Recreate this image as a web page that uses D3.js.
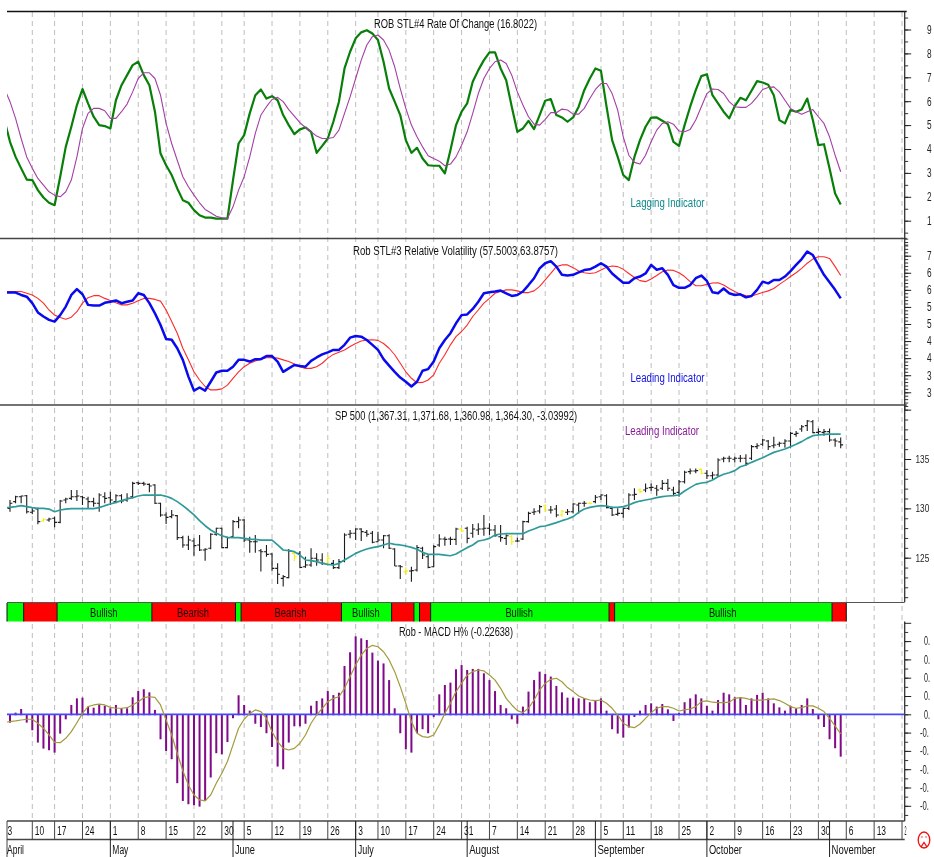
<!DOCTYPE html>
<html><head><meta charset="utf-8">
<script src="https://cdn.jsdelivr.net/npm/d3@7"></script>
<style>
html,body{margin:0;padding:0;background:#fff;overflow:hidden}
svg{display:block;filter:blur(0.35px)}
text{font-family:"Liberation Sans",Arial,sans-serif;fill:#111}
</style></head><body>
<svg id="c" width="934" height="857"></svg>
<script>
// Trading-day index k: 0 = 4 Apr 2006, 149 = 3 Nov 2006. Line series start at k = -1.
const rocFast=[52.1,43.0,36.7,31.9,27.2,27.0,22.8,19.7,17.5,16.5,28.4,40.9,49.3,58.4,65.1,59.1,53.5,50.0,49.6,48.6,60.4,66.7,70.9,75.1,76.5,70.9,66.7,55.6,38.1,33.2,29.1,23.5,18.6,17.5,14.4,12.3,11.3,11.3,10.9,10.9,10.9,27.0,42.3,45.8,54.9,62.5,64.9,61.1,62.1,60.4,54.2,50.0,46.2,48.2,49.0,47.2,38.4,41.3,44.4,51.4,59.8,73.7,80.7,86.3,88.8,89.7,88.3,85.6,76.5,65.3,59.8,54.2,43.7,38.4,40.5,36.0,33.2,33.0,33.0,29.8,39.5,50.0,55.6,59.1,68.1,73.0,77.2,80.4,80.4,73.7,68.8,57.7,47.2,48.6,51.8,48.3,54.2,60.2,60.9,54.2,53.2,51.4,53.2,57.7,64.6,69.5,73.7,72.7,57.7,43.7,36.7,29.1,27.0,36.7,43.7,49.3,53.1,53.2,51.8,50.4,43.0,41.3,50.0,57.7,64.6,70.5,71.3,62.5,59.1,55.6,52.8,57.9,61.4,60.4,64.4,68.4,67.8,66.9,62.5,52.1,50.7,56.3,55.6,56.5,61.1,52.1,41.6,42.0,31.8,21.4,16.8];
const rocSlow=[65.3,59.8,52.8,44.4,36.7,31.9,27.7,24.9,22.1,20.7,20.0,22.1,27.0,36.7,48.6,54.9,57.0,57.0,56.0,52.8,52.8,55.6,58.8,63.9,69.5,71.9,71.9,69.5,62.5,50.7,42.3,35.3,28.4,24.2,20.7,17.5,14.7,13.3,11.9,11.2,10.9,15.8,22.8,28.4,36.7,46.5,54.2,57.7,60.7,61.6,59.8,56.5,53.8,51.0,49.0,47.2,45.4,44.4,44.4,44.8,47.9,54.9,61.8,69.5,77.2,83.5,87.0,87.7,85.6,81.4,74.4,65.3,57.0,50.0,45.1,40.9,37.2,36.0,34.9,33.0,33.7,36.7,41.6,47.2,54.9,63.2,69.5,73.7,76.5,77.2,75.8,70.9,63.9,58.4,53.5,50.4,50.0,52.4,55.2,55.2,56.7,56.3,54.6,54.6,57.0,61.1,64.9,67.4,67.4,63.2,56.3,45.1,37.4,34.4,33.7,37.4,43.0,47.9,50.7,51.4,50.4,47.5,47.2,48.2,52.1,57.7,63.2,65.1,64.9,63.2,59.8,57.7,57.4,57.4,59.1,61.8,64.9,65.7,66.0,63.9,60.4,57.0,55.6,54.5,55.6,56.5,53.5,50.7,45.1,37.4,30.5];
const volFast=[59.3,59.2,59.2,58.5,58.0,56.1,53.4,52.2,51.2,50.7,52.6,55.1,58.5,60.2,58.7,55.6,55.4,55.4,56.2,56.5,56.9,56.1,56.5,56.9,59.0,58.5,56.1,53.1,49.7,45.6,45.4,42.9,39.5,34.6,30.5,31.4,30.5,33.1,35.8,36.3,36.3,37.5,39.5,39.5,39.0,39.7,39.7,40.6,40.6,39.0,36.0,37.0,38.0,37.7,37.5,39.2,40.2,41.1,41.7,42.4,42.4,43.9,46.0,46.5,46.3,45.3,43.9,42.4,39.7,37.8,36.0,34.3,33.1,31.7,33.1,36.3,36.8,39.0,42.9,45.3,47.3,50.2,52.6,52.8,54.4,56.5,59.0,59.3,59.5,59.8,59.0,58.2,58.5,59.5,61.4,63.4,66.3,67.8,68.4,66.8,64.4,64.2,64.4,65.1,65.8,66.0,66.8,67.8,66.8,64.8,63.4,62.1,62.1,63.4,63.9,64.8,67.3,65.9,66.3,64.4,61.4,60.6,60.6,61.4,63.4,64.2,62.6,59.3,59.0,60.4,59.0,58.5,58.7,57.8,58.2,60.0,62.4,61.9,62.9,62.9,63.9,65.5,67.3,69.0,71.2,70.2,67.3,64.4,62.2,60.0,57.5];
const volSlow=[59.5,59.5,59.5,59.5,59.0,58.5,57.5,56.1,54.1,52.6,51.9,51.4,52.0,53.6,56.1,57.7,58.3,58.3,57.5,56.9,56.2,55.6,55.6,56.1,56.8,57.5,57.5,57.2,56.7,54.1,50.7,47.3,42.9,39.5,36.0,33.6,31.7,30.7,30.7,31.0,32.1,34.1,36.0,37.5,38.5,39.2,39.7,40.1,40.2,40.0,39.5,39.0,38.3,37.5,37.0,37.0,37.5,38.5,40.0,41.1,41.7,42.4,43.4,44.3,45.0,45.3,45.4,45.2,44.3,42.9,41.0,38.5,36.0,34.1,32.8,32.9,33.6,35.1,38.5,41.0,43.9,46.3,47.8,49.7,52.2,54.1,56.1,57.5,59.0,59.5,60.0,60.0,59.7,59.2,59.2,59.7,61.0,62.9,64.8,66.8,67.3,67.3,66.5,65.5,65.0,64.8,65.0,65.8,66.6,67.0,66.8,66.0,64.8,63.6,62.7,62.4,63.2,64.2,65.3,65.8,65.7,65.0,63.9,62.4,61.2,61.2,61.6,62.0,62.1,61.4,60.4,59.5,58.7,58.3,58.2,58.7,59.2,59.7,60.4,61.6,62.7,63.9,65.0,66.3,67.8,69.0,69.7,69.7,69.2,66.8,64.2];
const spHigh=[1308.5,1312.8,1312.8,1313.5,1300,1300.7,1289.9,1290.6,1291.6,1308.5,1310.8,1318.6,1318.6,1312.8,1311.8,1310.8,1315.2,1316.2,1316.9,1314.2,1314.2,1315.2,1327,1327,1327,1325.3,1324.3,1305.8,1296,1298.3,1293.3,1272.3,1272.3,1269.6,1273,1259.5,1274.7,1280.4,1280.4,1271.3,1288.2,1291.6,1288.9,1271.3,1273,1258.8,1262.9,1254.4,1244.3,1232.5,1258.8,1256.1,1256.8,1251,1259.5,1254.4,1254.4,1252.7,1247.7,1248.7,1274.7,1278.1,1279.8,1279.8,1278.1,1277,1276.4,1273,1273.7,1259.5,1242.6,1240.2,1240.9,1262.9,1261.2,1252.7,1262.9,1273.7,1271.3,1271.3,1280.4,1280.4,1281.4,1284.2,1284.8,1293.3,1284.8,1283.1,1283.1,1273.7,1273,1270.3,1287.5,1296.6,1300,1303.4,1304.1,1302.4,1303.4,1298.3,1299.3,1305.1,1305.8,1307.4,1306.1,1313.5,1314.2,1314.2,1301.7,1300,1300.7,1315.2,1320.3,1320.3,1325.3,1325.3,1323.7,1328.7,1329.7,1322,1328.7,1338.2,1340.5,1340.5,1340.5,1338.9,1337.2,1350.7,1352.4,1353.4,1352.4,1354,1354.7,1364.2,1365.9,1370.3,1369.2,1372.6,1367.6,1369.9,1377.7,1378.4,1384.4,1389.5,1389.5,1381,1380.4,1381,1370.9,1371.7];
const spLow=[1296.6,1305.1,1305.1,1294.9,1293.9,1283.8,1286.5,1286.5,1280.8,1284.8,1305.1,1308.5,1307.4,1303.4,1300,1301.7,1296.6,1305.1,1303.4,1305.1,1305.1,1306.8,1310.1,1323.7,1323,1316.2,1304.4,1291.6,1284.2,1289.9,1267.9,1260.2,1257.8,1252,1256.8,1247,1258.5,1272.3,1259.5,1259.5,1270.3,1279.8,1265.6,1255.1,1255.1,1235.9,1251,1236.9,1223.4,1220.7,1229.1,1246.7,1239.2,1239.9,1240.9,1241.9,1242.6,1242.6,1238.6,1238.6,1245.3,1269.6,1267.9,1266.9,1271.3,1264.6,1265.6,1259.5,1258.8,1241.6,1228.4,1233.2,1225.7,1235.9,1248.7,1239.2,1240.2,1261.2,1262.2,1262.9,1262.9,1275.7,1264.6,1270.3,1273,1272.3,1273,1271.3,1266.2,1262.9,1262.9,1265.6,1267.9,1285.5,1293.3,1294.9,1296.6,1294.9,1290.9,1291.6,1293.3,1294.9,1294.9,1301.7,1304.1,1305.1,1308.5,1300,1292.2,1292.6,1290.6,1298.3,1308.5,1315.2,1316.2,1317.6,1312.8,1318.6,1317.6,1313.5,1311.8,1325.3,1334.5,1335.5,1334.5,1329.7,1329.7,1332.1,1346.6,1346.6,1346.6,1346.6,1342.9,1349,1360.1,1363.5,1359.1,1360.8,1362.5,1361.5,1361.5,1372.6,1377.7,1378.4,1376,1374.3,1373.6,1367.6,1362.5,1361];
const spOpen=[1300,1306.8,1311.8,1312.8,1296,1299.3,1287.2,1288.2,1289.9,1285.8,1308.5,1310.1,1311.8,1311.8,1309.5,1306.8,1305.1,1311.8,1310.8,1306.8,1312.8,1308.5,1311.8,1326,1325.3,1324.3,1323.7,1305.1,1293.3,1291.6,1292.6,1270.3,1262.9,1266.9,1262.9,1257.8,1259.5,1273.7,1279.8,1260.2,1271.3,1286.5,1288.2,1267.9,1266.2,1257.1,1256.1,1253.7,1239.2,1229.1,1229.8,1254.4,1254.4,1240.9,1242.6,1249.4,1247.7,1244.3,1244.3,1239.9,1246.7,1273.7,1274.7,1279.1,1275.7,1274.7,1266.2,1267.9,1272.3,1258.8,1241.6,1235.9,1236.5,1237.5,1259.5,1251,1240.9,1262.9,1268.9,1268.9,1268.6,1279.1,1279.8,1274.7,1278.1,1279.1,1279.8,1278.1,1271.3,1269.6,1271.3,1266.9,1268.9,1286.5,1296,1297.3,1302.7,1298.3,1299.3,1293.3,1296,1296.6,1303.4,1305.1,1305.1,1306.8,1311.8,1312.8,1300,1293.9,1294.9,1300,1313.5,1318.6,1318.6,1321,1320.3,1320.3,1325.3,1318.6,1316.2,1327,1337.2,1337.8,1339.5,1335.5,1333.1,1333.8,1350,1350.7,1349.7,1350.7,1350.7,1350.7,1362.5,1364.9,1368.2,1363.5,1364.9,1365.9,1368.2,1375,1380.4,1383.8,1387.8,1377,1377,1377.7,1369.2,1367.3];
const spClose=[1305.1,1311.8,1312.5,1296.6,1297.3,1286.5,1288.9,1289.2,1285.8,1307.4,1309.5,1311.8,1312.5,1310.8,1306.8,1305.1,1313.5,1310.1,1308.5,1312.8,1307.4,1310.1,1325.3,1325.3,1324.7,1322.6,1305.1,1293.3,1290.9,1293.3,1270.3,1262.9,1267.9,1262.2,1257.8,1258.5,1273.7,1279.8,1260.2,1270.3,1286.5,1288.2,1267.9,1266.2,1266.2,1256.1,1253.4,1239.2,1233.2,1230.8,1256.8,1251,1240.2,1242.6,1249.4,1247.7,1244.3,1249.4,1239.9,1246,1273,1274.7,1279.1,1276.4,1273.7,1265.6,1267.9,1272.3,1259.5,1241.6,1240.9,1236.5,1236.9,1260.2,1252.7,1240.2,1261.2,1268.9,1268.6,1268.6,1279.1,1277,1269.6,1279.1,1279.1,1279.8,1278.1,1272.3,1270.3,1272.3,1266.2,1266.9,1286.5,1294.9,1296.6,1301.7,1298.3,1298.3,1293.3,1297.3,1296.6,1304.4,1305.1,1305.1,1305.1,1311.2,1313.5,1300.7,1293.3,1294.9,1300,1313.5,1314.2,1316.9,1320.3,1321.3,1318.6,1325.3,1320.3,1315.2,1327,1336.5,1337.8,1338.2,1335.5,1333.1,1333.8,1349,1350.7,1350.7,1350.7,1350.7,1345.6,1362.5,1363.5,1369.2,1362.5,1364.2,1365.9,1368.2,1376,1376,1382.7,1388.5,1376.7,1377.7,1377.7,1369.2,1368.2,1364.3];
const spAvg=[1300.7,1301,1301.7,1302.7,1301.7,1300.7,1300,1300,1299.3,1296.6,1298.3,1299.3,1299.7,1299.7,1299.7,1299.7,1299.7,1300.7,1302.7,1304.4,1306.1,1307.8,1309.5,1310.8,1312.5,1313.5,1313.5,1313.5,1313.5,1312.2,1310.1,1306.8,1302.7,1298.3,1293.3,1287.5,1282.4,1278.1,1274.7,1272.3,1270.6,1270.3,1270.3,1269.6,1268.9,1268.6,1267.9,1267.9,1267.9,1262.9,1257.8,1257.1,1256.1,1252.7,1247.7,1247,1246,1244.3,1243.3,1242.6,1244.3,1247.7,1251,1254.4,1256.8,1258.8,1260.2,1261.2,1262.9,1264.6,1263.5,1262.9,1261.9,1260.5,1258.5,1255.4,1253.4,1253.4,1253.4,1252.7,1252,1253.7,1257.1,1260.2,1262.9,1266.9,1267.9,1269.6,1273,1274,1274.3,1274.3,1274.3,1274.3,1277,1279.1,1281.4,1282.1,1283.8,1285.5,1287.5,1289.2,1291.6,1296,1299.3,1301,1302,1302.7,1302.4,1301,1301,1301.7,1303.4,1305.8,1307.4,1308.5,1309.5,1310.8,1311.8,1312.5,1312.8,1313.5,1317.6,1321,1324.3,1325.7,1326.4,1328.7,1332.1,1334.5,1336.1,1338.2,1342.2,1343.9,1346.6,1349,1351.3,1354,1356.7,1358.4,1360.1,1362.5,1364.9,1367.6,1370.9,1373.6,1374.3,1375,1375.3,1375.3,1375.3];
const yellowBars=[6,51,57,71,81,90,96,99,104,113,124];
const macdHist=[-0.040,0.009,0.029,-0.040,-0.082,-0.149,-0.182,-0.191,-0.204,-0.100,-0.022,0.051,0.087,0.091,0.042,0.036,0.051,0.047,0.033,0.051,0.033,0.033,0.093,0.127,0.137,0.120,0.024,-0.131,-0.195,-0.240,-0.371,-0.468,-0.486,-0.491,-0.499,-0.468,-0.340,-0.207,-0.213,-0.146,-0.016,0.104,0.051,0.020,-0.046,-0.064,-0.098,-0.173,-0.280,-0.295,-0.149,-0.060,-0.060,-0.046,0.047,0.073,0.087,0.127,0.105,0.118,0.264,0.339,0.426,0.415,0.406,0.337,0.293,0.278,0.187,0.033,-0.098,-0.186,-0.204,-0.098,-0.076,-0.098,-0.009,0.109,0.160,0.173,0.246,0.269,0.242,0.248,0.248,0.224,0.187,0.127,0.051,0.033,-0.022,-0.046,0.042,0.124,0.187,0.233,0.220,0.206,0.155,0.120,0.091,0.091,0.087,0.087,0.066,0.078,0.087,0.020,-0.076,-0.100,-0.122,-0.067,-0.009,0.020,0.051,0.060,0.042,0.056,0.027,-0.031,0.009,0.066,0.087,0.109,0.087,0.046,0.020,0.078,0.118,0.109,0.093,0.093,0.051,0.087,0.106,0.118,0.087,0.060,0.038,0.020,0.046,0.033,0.051,0.087,0.029,-0.022,-0.064,-0.131,-0.180,-0.226];
const macdSignal=[-0.044,-0.040,-0.036,-0.031,-0.027,-0.027,-0.049,-0.076,-0.113,-0.153,-0.155,-0.131,-0.095,-0.046,0.005,0.042,0.051,0.056,0.051,0.038,0.033,0.033,0.036,0.051,0.069,0.091,0.096,0.093,0.051,-0.031,-0.113,-0.213,-0.308,-0.386,-0.441,-0.468,-0.473,-0.441,-0.377,-0.322,-0.258,-0.167,-0.076,-0.027,0.005,0.024,0.015,-0.022,-0.095,-0.149,-0.186,-0.195,-0.186,-0.158,-0.113,-0.049,-0.004,0.033,0.069,0.087,0.096,0.142,0.206,0.269,0.324,0.360,0.377,0.369,0.342,0.297,0.233,0.151,0.060,-0.040,-0.104,-0.122,-0.126,-0.113,-0.058,0.005,0.060,0.124,0.169,0.215,0.233,0.242,0.237,0.215,0.187,0.142,0.087,0.051,0.020,0.009,0.033,0.078,0.133,0.169,0.191,0.197,0.178,0.146,0.124,0.100,0.087,0.078,0.075,0.078,0.060,0.033,-0.004,-0.049,-0.067,-0.073,-0.053,-0.022,0.009,0.033,0.042,0.042,0.033,0.018,0.024,0.029,0.042,0.069,0.073,0.066,0.064,0.064,0.066,0.087,0.091,0.087,0.078,0.078,0.078,0.082,0.084,0.075,0.060,0.042,0.033,0.036,0.046,0.046,0.033,0.015,-0.022,-0.064,-0.107];
const bandStarts=[-1,3,9,26,41,42,60,69,73,74,76,108,109,148,150.55];
const bandBullish=[1,0,1,0,1,0,1,0,1,0,1,0,1,0];
const bandLabels=["","","Bullish","Bearish","","Bearish","Bullish","","","","Bullish","","Bullish",""];
const weekTicks=[-1,4,8,13,18,23,28,33,38,42,47,52,57,62,66,71,76,81,86,91,96,101,106,110,115,120,125,130,135,140,145,150,155,160];
const weekLabels=["3","10","17","24","1","8","15","22","30","5","12","19","26","3","10","17","24","31","7","14","21","28","5","11","18","25","2","9","16","23","30","6","13","2"];
const monthTicks=[-1,18,40,62,82,105,125,147];
const monthLabels=["April","May","June","July","August","September","October","November"];
const monthWidths=[17,16,20,16,30,47,33,44];
const panelTitles=["ROB STL#4 Rate Of Change (16.8022)","Rob STL#3 Relative Volatility (57.5003,63.8757)","SP 500 (1,367.31, 1,371.68, 1,360.98, 1,364.30, -3.03992)","Rob - MACD H% (-0.22638)"];
// tick values and the part of each tick label the reference shows at the window edge
const rocTicks=[10,20,30,40,50,60,70,80,90];
const rocTickText=["1","2","3","4","5","6","7","8","9"];
const volTicks=[30,35,40,45,50,55,60,65,70];
const volTickText=["3","3","4","4","5","5","6","6","7"];
const spTicks=[1250,1300,1350,1400];
const spTickText=["125","130","135",""];
const macdTicks=[-0.5,-0.4,-0.3,-0.2,-0.1,0,0.1,0.2,0.3,0.4,0.5];
const macdTickText=["-0.","-0.","-0.","-0.","-0.","0.","0.","0.","0.","0.",""];

const svg=d3.select("#c");
const L=7,R=904.7;
const x=d3.scaleLinear().domain([0,149]).range([10,840.7]);
const y1=d3.scaleLinear().domain([10,90]).range([220.7,29.5]);
const y2=d3.scaleLinear().domain([30,70]).range([392.3,255.7]);
const y3=d3.scaleLinear().domain([1250,1350]).range([557.7,459]);
const y4=d3.scaleLinear().domain([-0.1,0.1]).range([732.6,696]);

const defs=svg.append("defs");
defs.append("clipPath").attr("id","plot").append("rect").attr("x",L).attr("y",0).attr("width",R-L).attr("height",857);

function label(g,str,px,py,w,o={}){
  return g.append("text").text(str).attr("x",px).attr("y",py)
    .attr("font-size",o.size||12).attr("textLength",w).attr("lengthAdjust","spacingAndGlyphs")
    .attr("text-anchor",o.anchor||"start").style("fill",o.fill||"#111");
}

// grid
svg.append("g").selectAll("line").data(weekTicks.slice(1)).join("line")
  .attr("x1",d=>x(d)).attr("x2",d=>x(d)).attr("y1",12).attr("y2",821)
  .attr("stroke","#bdbdbd").attr("stroke-dasharray","5,4");

// panel frames
const frame=svg.append("g");
frame.append("line").attr("x1",L).attr("x2",R+2).attr("y1",11.5).attr("y2",11.5).attr("stroke","#111").attr("stroke-width",1.5);
[238.6,405].forEach(v=>frame.append("line").attr("x1",0).attr("x2",R+2).attr("y1",v).attr("y2",v).attr("stroke","#444").attr("stroke-width",1.5));
frame.append("line").attr("x1",L).attr("x2",R).attr("y1",602.5).attr("y2",602.5).attr("stroke","#555").attr("stroke-width",1.2);

// right-hand axes
function rightAxis(scale,major,texts,minor,labelX,top,bottom,pitch,size){
  const g=svg.append("g").attr("transform",`translate(${R},0)`);
  g.append("line").attr("y1",top).attr("y2",bottom).attr("stroke","#333").attr("stroke-width",1.3);
  const a=g.append("g").call(d3.axisRight(scale).tickValues(minor).tickSize(3.5).tickFormat(""));
  a.select(".domain").remove(); a.selectAll("line").attr("stroke","#333");
  const b=g.append("g").call(d3.axisRight(scale).tickValues(major).tickSize(6.5).tickFormat((d,i)=>texts[i]));
  b.select(".domain").remove(); b.selectAll("line").attr("stroke","#222");
  b.selectAll("text").each(function(d,i){
    const s=texts[i];
    if(!s){d3.select(this).remove();return;}
    d3.select(this).attr("x",labelX(s)-R).attr("text-anchor","start").attr("font-size",size)
      .attr("textLength",pitch*s.length).attr("lengthAdjust","spacingAndGlyphs").style("fill","#222");
  });
}
rightAxis(y1,rocTicks,rocTickText,d3.range(5,100,5).concat([0]),()=>927,11.5,238.6,4.6,12);
rightAxis(y2,volTicks,volTickText,d3.range(26,76,1),()=>927,238.6,410,4.6,12);
rightAxis(y3,spTicks,spTickText,d3.range(1210,1410,10),()=>915.5,405,602,4.6,11);
rightAxis(y4,macdTicks,macdTickText,d3.range(-0.55,0.5,0.05).map(v=>+v.toFixed(2)),s=>s[0]==="-"?920:924,621.5,821,3.0,12);

const plot=svg.append("g").attr("clip-path","url(#plot)");
const lineOf=(y)=>d3.line().x((d,i)=>x(i-1)).y(d=>y(d));
function drawLine(a,y,color,w){
  plot.append("path").datum(a).attr("d",lineOf(y)).attr("fill","none").attr("stroke",color).attr("stroke-width",w).attr("stroke-linejoin","round");
}
// panel 1
drawLine(rocFast,y1,"#087f08",2.2);
drawLine(rocSlow,y1,"#a43fa4",1.1);
// panel 2
drawLine(volSlow,y2,"#fb2b2b",1.1);
drawLine(volFast,y2,"#0a0aee",2.5);
// panel 3
const bars=plot.append("g").selectAll("g").data(d3.range(spHigh.length)).join("g")
  .attr("stroke",i=>yellowBars.includes(i)?"#f5f000":"#1c1c1c").attr("stroke-width",1.1);
bars.append("line").attr("x1",i=>x(i)).attr("x2",i=>x(i)).attr("y1",i=>y3(spHigh[i])).attr("y2",i=>y3(spLow[i]));
bars.append("line").attr("x1",i=>x(i)-2.4).attr("x2",i=>x(i)).attr("y1",i=>y3(spOpen[i])).attr("y2",i=>y3(spOpen[i]));
bars.append("line").attr("x1",i=>x(i)).attr("x2",i=>x(i)+2.4).attr("y1",i=>y3(spClose[i])).attr("y2",i=>y3(spClose[i]));
drawLine(spAvg,y3,"#2f9a9a",1.7);
// bias band
const band=svg.append("g");
const bx=k=>k<0?L:x(k-0.55);
bandBullish.forEach((b,i)=>{
  const a=bx(bandStarts[i]),e=bx(bandStarts[i+1]);
  band.append("rect").attr("x",a).attr("y",603).attr("width",e-a).attr("height",18.5).attr("fill",b?"#00ff00":"#ff0000");
  band.append("line").attr("x1",a).attr("x2",a).attr("y1",603).attr("y2",621.5).attr("stroke","#111");
  if(bandLabels[i]) label(band,bandLabels[i],(a+e)/2-0.7,617,bandLabels[i]==="Bullish"?27.5:32,{anchor:"middle"});
});
band.append("line").attr("x1",bx(150.55)).attr("x2",bx(150.55)).attr("y1",603).attr("y2",621.5).attr("stroke","#111");
// panel 4
plot.append("g").selectAll("rect").data(macdHist).join("rect")
  .attr("x",(d,i)=>x(i)-1).attr("width",2).attr("y",d=>Math.min(y4(d),y4(0))).attr("height",d=>Math.abs(y4(d)-y4(0))+1).attr("fill","#800a88");
plot.append("line").attr("x1",L).attr("x2",R).attr("y1",y4(0)).attr("y2",y4(0)).attr("stroke","#4747ff").attr("stroke-width",1.8);
drawLine(macdSignal,y4,"#a39a3c",1.2);

// titles
const t=svg.append("g");
label(t,panelTitles[0],374,28,163);
label(t,panelTitles[1],353,254.5,205);
label(t,panelTitles[2],335,420,242);
label(t,panelTitles[3],399,636,114);
label(t,"Lagging Indicator",630.5,207,74,{fill:"#0e8a8a"});
label(t,"Leading Indicator",630.5,382,74,{fill:"#1010e0"});
label(t,"Leading Indicator",625,434.5,74,{fill:"#8a1a9a"});

// date rows
const dates=svg.append("g");
[821,839.5].forEach(v=>dates.append("line").attr("x1",L).attr("x2",R).attr("y1",v).attr("y2",v).attr("stroke","#444").attr("stroke-width",1.4));
dates.append("line").attr("x1",L).attr("x2",L).attr("y1",821).attr("y2",857).attr("stroke","#444");
weekTicks.forEach((k,i)=>{
  if(x(k)>L) dates.append("line").attr("x1",x(k)).attr("x2",x(k)).attr("y1",821).attr("y2",839.5).attr("stroke","#444");
  const isEdge=i===weekTicks.length-1;
  label(dates,weekLabels[i],Math.max(x(k)+2.5,7.5),835,isEdge?2:4.7*weekLabels[i].length);
});
monthTicks.forEach((k,i)=>{
  if(i>0) dates.append("line").attr("x1",x(k)).attr("x2",x(k)).attr("y1",821).attr("y2",857).attr("stroke","#222");
  label(dates,monthLabels[i],Math.max(x(k)+2,L),854,monthWidths[i]);
});

// sad-face marker
const face=svg.append("g").attr("fill","none").attr("stroke","#f01010").attr("stroke-width",1.3);
face.append("ellipse").attr("cx",924).attr("cy",840).attr("rx",5.8).attr("ry",8);
face.append("path").attr("d",d3.line()([[921,847],[924,842.5],[927,847]]));
face.append("path").attr("d",d3.line()([[921.5,837],[922.5,837]]));
face.append("path").attr("d",d3.line()([[925.5,837],[926.5,837]]));
</script></body></html>
